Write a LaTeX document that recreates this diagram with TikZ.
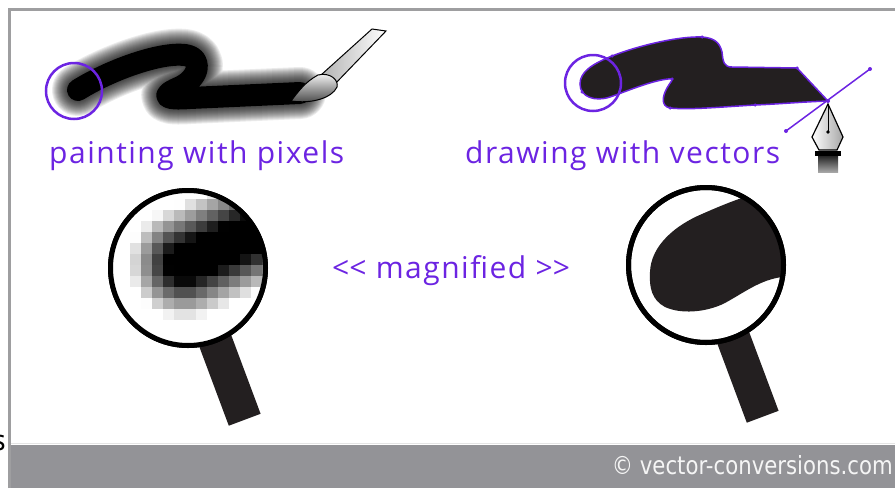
\documentclass[tikz,border=0pt]{standalone}
\usepackage{fontspec}
\setmainfont{PT Sans}
\newfontfamily\capfont[LetterSpace=5]{Open Sans}
\newfontfamily\footfont[FakeStretch=0.85]{DejaVu Sans}
\usetikzlibrary{positioning,calc}
\definecolor{penviolet}{RGB}{108,36,226}
\definecolor{framegray}{RGB}{158,158,160}
\definecolor{bargray}{RGB}{147,147,151}
\definecolor{inkblack}{RGB}{35,31,32}

\begin{document}
\begin{tikzpicture}[x=1pt, y=-1pt,
    caption/.style={text=penviolet, font=\capfont\fontsize{30}{34}\selectfont, inner sep=0, anchor=base west},
    ring/.style={circle, draw=penviolet, line width=2.5pt, minimum size=56pt, inner sep=0},
    lens/.style={circle, draw=black, line width=5pt, minimum size=155pt, inner sep=0},
    grip/.style={fill=inkblack},
    knot/.style={circle, fill=penviolet, inner sep=0, minimum size=4pt},
    smear/.style={line cap=round, line join=round}]
\useasboundingbox (0,0) rectangle (895,488);

% frame and footer bar
\fill[bargray] (8,445) rectangle (895,488);
\draw[white!80!gray, line width=1pt] (9,443.5) -- (895,443.5);
\draw[framegray, line width=3pt] (9.5,488) -- (9.5,9.5) -- (895,9.5);
\node[font=\footfont\fontsize{25}{27}\selectfont, text=white!92!gray, anchor=base east, inner sep=0] (site) at (893,474) {\textcopyright{} vector-conversions.com};
\node[font=\fontsize{30}{32}\selectfont, anchor=base east, inner sep=0] (cut) at (6,450) {s};

% painted stroke, soft edges
\foreach \w in {52,50,...,24}
  \draw[smear, line width=\w pt, opacity=0.08]
    (78,90) .. controls (110,70) and (160,52) .. (185,55) .. controls (205,58) and (198,80) .. (178,88)
    .. controls (160,96) and (165,100) .. (190,98) -- (300,93);
\draw[smear, line width=22pt]
    (78,90) .. controls (110,70) and (160,52) .. (185,55) .. controls (205,58) and (198,80) .. (178,88)
    .. controls (160,96) and (165,100) .. (190,98) -- (300,93);

% brush
\shade[left color=gray!60, right color=white, draw=black, line width=1pt]
  (321,75) -- (372,29) -- (386,31) -- (334,85) -- cycle;
\shade[top color=white, bottom color=black!75, draw=black, line width=1pt]
  (318,75) .. controls (305,82) and (298,92) .. (291,101) .. controls (312,104) and (332,98) .. (337,87)
  .. controls (339,80) and (330,72) .. (318,75) -- cycle;
\node[ring] (dotL) at (74,91) {};
\node[caption] (pixcap) at (49,163) {painting with pixels};

% vector stroke with its anchors
\filldraw[fill=inkblack, draw=penviolet, line width=1.5pt]
  (580,84) .. controls (580,72) and (592,64) .. (612,56) .. controls (640,45) and (680,36) .. (702,37)
  .. controls (716,38) and (720,44) .. (722,52) .. controls (723,62) and (724,67) .. (732,67)
  -- (797,68) -- (828,101)
  .. controls (800,102) and (780,104) .. (755,105) .. controls (720,107) and (690,110) .. (670,108)
  .. controls (660,106) and (663,95) .. (667,88) .. controls (670,82) and (676,78) .. (668,79)
  .. controls (650,81) and (625,92) .. (610,97) .. controls (595,102) and (580,97) .. (580,84) -- cycle;
\foreach \p in {(612,56),(702,37),(797,68),(755,105),(670,108),(582,92),(672,79)}
  \node[knot, minimum size=3.5pt] at \p {};
\node[ring] (dotR) at (593,83) {};
\node[knot] (hA) at (786,131) {};
\node[knot] (hB) at (870,69) {};
\node[knot] (tip) at (828,101) {};
\draw[penviolet, line width=1.5pt] (hA.center) -- (hB.center);

% pen nib
\shade[left color=white, right color=gray!70, draw=black, line width=1.2pt]
  (828,104) -- (843,137) -- (837,150) -- (819,150) -- (812,137) -- cycle;
\draw[black, line width=1pt] (828,104) -- (828,131);
\fill[black] (828,132) circle[radius=1.8];
\fill[black] (815,151) rectangle (841,156);
\shade[top color=black!85, bottom color=gray!70] (818,156) rectangle (838,172);
\node[caption] (veccap) at (465,163) {drawing with vectors};

% left magnifier, pixel grid
\fill[grip] (195.9,337.6) -- (227.7,325.7) -- (260.6,413.8) -- (228.8,425.7) -- cycle;
\node[lens, fill=white] (lensL) at (188,268) {};
\begin{scope}
  \clip (lensL.center) circle[radius=76];
  \foreach \i in {0,...,14}
    \foreach \j in {0,...,14}{
      \pgfmathsetmacro\cx{113.5+11*\i}
      \pgfmathsetmacro\cy{193.5+11*\j}
      \pgfmathsetmacro\tpos{max(0,min(1,((\cx-185)*115+(\cy-263)*(-50))/15725))}
      \pgfmathsetmacro\dist{veclen(\cx-185-115*\tpos,\cy-263+50*\tpos)}
      \pgfmathsetmacro\tone{100*max(0,min(1,(56-\dist)/38))}
      \fill[black!\tone!white] (108+11*\i,188+11*\j) rectangle +(11,11);
    }
\end{scope}
\node[lens] at (lensL.center) {};

\node[caption] (zoomcap) at (332,278) {<\kern0pt< magnified >\kern0pt>};

% right magnifier, vector shape
\fill[grip] (713.9,334.6) -- (745.7,322.8) -- (778.6,410.8) -- (746.8,422.7) -- cycle;
\node[lens, fill=white] (lensR) at (706,265) {};
\begin{scope}
  \clip (lensR.center) circle[radius=76];
  \fill[inkblack]
    (650,272) .. controls (651,245) and (676,225) .. (702,214) .. controls (720,206) and (735,200) .. (748,196)
    -- (800,185) -- (800,275) -- (782,277)
    .. controls (760,280) and (745,292) .. (725,303) .. controls (705,313) and (680,314) .. (665,307)
    .. controls (652,300) and (649,288) .. (650,272) -- cycle;
\end{scope}
\node[lens] at (lensR.center) {};
\end{tikzpicture}
\end{document}
